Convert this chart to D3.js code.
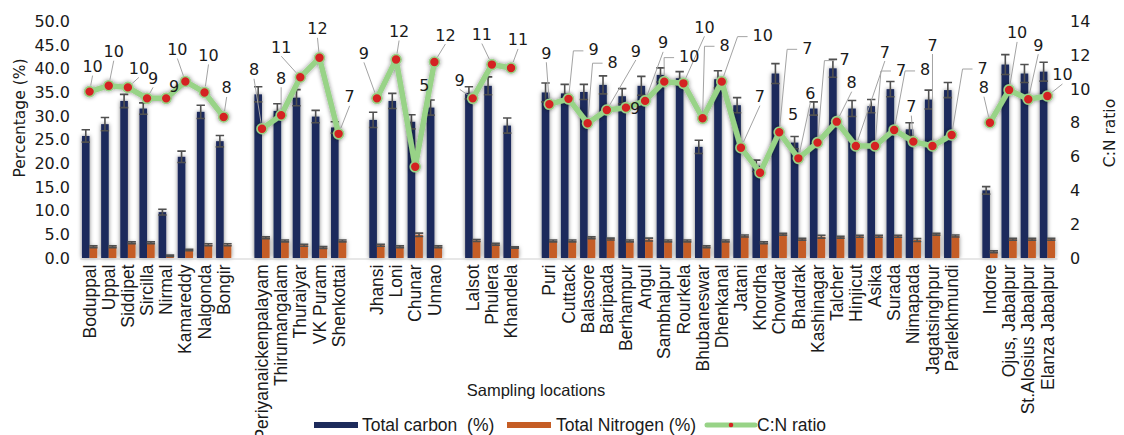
<!DOCTYPE html>
<html>
<head>
<meta charset="utf-8">
<script src="https://cdn.jsdelivr.net/npm/d3@7"></script>
<style>
  html, body { margin: 0; padding: 0; background: #fff; }
  svg { display: block; }
  .tick text { fill: #1a1a1a; }
</style>
</head>
<body>
<svg id="chart" width="1124" height="435"></svg>
<script>
// Sampling locations, in order, split into regional groups
const categories = [
  "Boduppal", "Uppal", "Siddipet", "Sircilla", "Nirmal", "Kamareddy", "Nalgonda", "Bongir",
  "Periyanaickenpalayam", "Thirumangalam", "Thuraiyar", "VK Puram", "Shenkottai",
  "Jhansi", "Loni", "Chunar", "Unnao",
  "Lalsot", "Phulera", "Khandela",
  "Puri", "Cuttack", "Balasore", "Baripada", "Berhampur", "Angul", "Sambhalpur", "Rourkela",
  "Bhubaneswar", "Dhenkanal", "Jatani", "Khordha", "Chowdar", "Bhadrak", "Kashinagar", "Talcher",
  "Hinjicut", "Asika", "Surada", "Nimapada", "Jagatsinghpur", "Parlekhmundi",
  "Indore", "Ojus, Jabalpur", "St.Alosius Jabalpur", "Elanza Jabalpur"
];
const groupSizes = [8, 5, 4, 3, 22, 4];

// Total carbon (%) and its error
const carbon = [
  25.8, 28.3, 33.2, 31.6, 9.7, 21.4, 30.9, 24.7,
  34.6, 31.1, 33.9, 29.9, 27.6,
  29.2, 33.2, 28.8, 31.8,
  34.9, 36.4, 28.0,
  35.0, 34.8, 35.1, 36.6, 34.2, 36.4, 38.7, 38.0, 23.5, 37.8, 32.3, 19.5, 39.0, 24.4, 31.6, 40.1,
  31.6, 32.1, 35.7, 27.2, 33.5, 35.5,
  14.3, 40.9, 39.0, 39.4
];
const carbonErr = [
  1.3, 1.4, 1.4, 1.2, 0.6, 1.2, 1.4, 1.2,
  1.6, 1.5, 1.7, 1.3, 1.2,
  1.6, 1.6, 1.5, 1.6,
  1.3, 1.9, 1.6,
  2.0, 1.9, 1.6, 1.9, 1.6, 2.0, 1.5, 1.4, 1.4, 1.8, 1.6, 1.2, 2.1, 1.3, 1.4, 1.9,
  1.7, 1.4, 1.6, 1.4, 2.0, 1.6,
  0.8, 2.1, 1.9, 2.0
];

// Total nitrogen (%) and its error
const nitrogen = [
  2.4, 2.4, 3.2, 3.2, 0.5, 1.7, 2.8, 2.8,
  4.3, 3.6, 2.7, 2.2, 3.6,
  2.7, 2.4, 4.9, 2.4,
  3.7, 2.9, 2.2,
  3.6, 3.6, 4.3, 4.0, 3.6, 3.9, 3.6, 3.6, 2.4, 3.6, 4.65, 3.2, 5.0, 3.95, 4.5, 4.4,
  4.6, 4.6, 4.6, 3.8, 5.0, 4.65,
  1.3, 3.95, 3.95, 3.95
];
const nitrogenErr = [
  0.2, 0.2, 0.2, 0.2, 0.15, 0.15, 0.2, 0.2,
  0.2, 0.2, 0.2, 0.2, 0.2,
  0.2, 0.2, 0.35, 0.2,
  0.2, 0.2, 0.15,
  0.2, 0.2, 0.2, 0.2, 0.2, 0.3, 0.2, 0.2, 0.2, 0.2, 0.2, 0.2, 0.2, 0.2, 0.3, 0.2,
  0.2, 0.2, 0.2, 0.3, 0.2, 0.2,
  0.2, 0.2, 0.2, 0.2
];

// C:N ratio
const cnRatio = [
  9.85, 10.2, 10.1, 9.45, 9.45, 10.45, 9.8, 8.35,
  7.65, 8.45, 10.7, 11.85, 7.35,
  9.45, 11.75, 5.4, 11.6,
  9.45, 11.45, 11.25,
  9.1, 9.42, 7.98, 8.76, 8.9, 9.3, 10.44, 10.34, 8.27, 10.44, 6.53, 5.05, 7.44, 5.9, 6.83, 8.07,
  6.63, 6.63, 7.58, 6.89, 6.63, 7.28,
  8.01, 9.95, 9.4, 9.59
];

const percentTicks = [0, 5, 10, 15, 20, 25, 30, 35, 40, 45, 50];
const ratioTicks = [0, 2, 4, 6, 8, 10, 12, 14];

// Placement of each ratio label relative to its marker: [dx, dy, leader]
// leader: 0 = none, 1 = straight line, 2 = line with a short horizontal stub
const labelPlacement = [
  [3, -25, 1], [5, -34, 1], [11, -19, 1], [6, -20, 1], [8, -12, 0], [-8, -32, 1], [4, -37, 1], [3, -29, 1],
  [-8, -59, 1], [0, -37, 1], [-19, -30, 1], [-2, -29, 1], [11, -37, 1],
  [-13, -45, 1], [3, -28, 1], [9, -81, 0], [11, -27, 1],
  [-13, -18, 1], [-10, -30, 1], [7, -28, 1],
  [-3, -51, 1], [25, -49, 2], [25, -61, 2], [29, -59, 1], [9, 1, 0], [18, -58, 1], [25, -25, 2], [21, -56, 1],
  [22, -73, 2], [41, -46, 2], [19, -51, 1], [33, -58, 0], [28, -84, 2], [12, -65, 1], [27, -83, 2], [15, -39, 1],
  [29, -94, 1], [26, -76, 2], [31, -60, 2], [-2, -35, 1], [0, -101, 1], [31, -67, 2],
  [-6, -35, 1], [8, -57, 1], [10, -54, 1], [15, -21, 1]
];

// ---- layout ----
const plot = { left: 80, right: 1057, top: 21.5, bottom: 258 };
const colors = { carbon: "#1d2b5b", nitrogen: "#c55d25", line: "#98d387", marker: "#d42323", err: "#505050" };

// slot list: categories with a blank slot between regional groups
const rows = categories.map((name, i) => ({
  name, c: carbon[i], ce: carbonErr[i], n: nitrogen[i], ne: nitrogenErr[i], cn: cnRatio[i], place: labelPlacement[i]
}));
const slots = [];
let k = 0;
groupSizes.forEach((size, g) => {
  if (g > 0) slots.push({ key: "gap" + g, gap: true });
  for (let j = 0; j < size; j++, k++) slots.push({ key: rows[k].name, row: rows[k] });
});

const svg = d3.select("#chart");
const defs = svg.append("defs");
const shadow = defs.append("filter").attr("id", "soft").attr("x", "-80%").attr("y", "-20%").attr("width", "260%").attr("height", "140%");
shadow.append("feDropShadow").attr("dx", 0).attr("dy", 0).attr("stdDeviation", 2.2)
  .attr("flood-color", "#000").attr("flood-opacity", 0.5);
const lineShadow = defs.append("filter").attr("id", "lineSoft").attr("x", "-10%").attr("y", "-30%").attr("width", "120%").attr("height", "160%");
lineShadow.append("feDropShadow").attr("dx", 0).attr("dy", 0).attr("stdDeviation", 2.2)
  .attr("flood-color", "#000").attr("flood-opacity", 0.45);

const x = d3.scaleBand().domain(slots.map(s => s.key)).range([plot.left, plot.right]).padding(0);
const yL = d3.scaleLinear().domain([0, 50]).range([plot.bottom, plot.top]);
const yR = d3.scaleLinear().domain([0, 14]).range([plot.bottom, plot.top]);
const barW = 7.6;
const cx = name => x(name) + x.bandwidth() / 2;

// ---- axes ----
const leftAxis = svg.append("g").attr("transform", `translate(${plot.left},0)`)
  .call(d3.axisLeft(yL).tickValues(percentTicks).tickFormat(d3.format(".1f")).tickSize(0).tickPadding(10));
leftAxis.select(".domain").remove();
leftAxis.selectAll("text").attr("font-family", "DejaVu Sans").attr("font-size", 16);

const rightAxis = svg.append("g").attr("transform", `translate(${plot.right},0)`)
  .call(d3.axisRight(yR).tickValues(ratioTicks).tickFormat(d3.format("d")).tickSize(0).tickPadding(13));
rightAxis.select(".domain").remove();
rightAxis.selectAll("text").attr("font-family", "DejaVu Sans").attr("font-size", 16);

// ---- bars ----
const bars = svg.append("g").attr("filter", "url(#soft)");
const dataRows = slots.filter(s => !s.gap);
bars.selectAll("rect.c").data(dataRows).join("rect").attr("class", "c")
  .attr("x", s => cx(s.key) - barW).attr("width", barW)
  .attr("y", s => yL(s.row.c)).attr("height", s => yL(0) - yL(s.row.c))
  .attr("fill", colors.carbon);
bars.selectAll("rect.n").data(dataRows).join("rect").attr("class", "n")
  .attr("x", s => cx(s.key)).attr("width", barW)
  .attr("y", s => yL(s.row.n)).attr("height", s => yL(0) - yL(s.row.n))
  .attr("fill", colors.nitrogen);

// ---- error bars ----
const errG = svg.append("g").attr("stroke", colors.err).attr("stroke-width", 1.6).attr("fill", "none");
function errorBar(xc, v, e) {
  const y1 = yL(v + e), y2 = yL(Math.max(0, v - e)), h = 4.2;
  errG.append("path").attr("d", `M${xc},${y1}V${y2}M${xc - h},${y1}H${xc + h}M${xc - h},${y2}H${xc + h}`);
}
dataRows.forEach(s => {
  errorBar(cx(s.key) - barW / 2, s.row.c, s.row.ce);
  errorBar(cx(s.key) + barW / 2, s.row.n, s.row.ne);
});

// x axis baseline and category labels
const xAxis = svg.append("g").attr("transform", `translate(0,${plot.bottom + 0.5})`)
  .call(d3.axisBottom(x).tickValues(categories).tickSize(0).tickSizeOuter(0).tickPadding(0));
xAxis.select(".domain").attr("stroke", "#d0d0d0").attr("stroke-width", 1.2);
xAxis.selectAll(".tick text")
  .attr("font-family", "Liberation Sans, Arial, sans-serif").attr("font-size", 17.5)
  .attr("text-anchor", "end").attr("dy", "0.35em")
  .attr("transform", "translate(0,6) rotate(-90)").attr("x", 0).attr("y", 0);

// ---- C:N ratio line ----
const lineG = svg.append("g").attr("filter", "url(#lineSoft)");
const line = d3.line()
  .defined(s => !s.gap)
  .x(s => cx(s.key))
  .y(s => yR(s.row.cn));
lineG.append("path").datum(slots).attr("d", line)
  .attr("fill", "none").attr("stroke", colors.line).attr("stroke-width", 5.5)
  .attr("stroke-linejoin", "round").attr("stroke-linecap", "round");
lineG.selectAll("circle").data(dataRows).join("circle")
  .attr("cx", s => cx(s.key)).attr("cy", s => yR(s.row.cn)).attr("r", 5)
  .attr("fill", colors.marker).attr("stroke", colors.line).attr("stroke-width", 1.6);

// ---- ratio labels with leader lines ----
const fmt = d3.format(".0f");
const leaderG = svg.append("g").attr("stroke", "#a3a3a3").attr("stroke-width", 1).attr("fill", "none");
const labelG = svg.append("g").attr("font-family", "DejaVu Sans").attr("font-size", 16).attr("fill", "#1a1a1a");
dataRows.forEach(s => {
  const px = cx(s.key), py = yR(s.row.cn);
  const [dx, dy, leader] = s.row.place;
  const lx = px + dx, ly = py + dy;
  const t = labelG.append("text").attr("x", lx).attr("y", ly).attr("text-anchor", "middle")
    .attr("dominant-baseline", "central").text(fmt(s.row.cn));
  const w = t.node().getComputedTextLength();
  if (leader === 0) return;
  let sx, sy, pts = [];
  if (leader === 2) {
    sx = lx - w / 2 - 5; sy = ly + 1;
    pts.push([sx, sy]);
    sx -= 10;
    pts.push([sx, sy]);
  } else {
    sx = lx; sy = ly + 9;
    pts.push([sx, sy]);
  }
  const vx = px - sx, vy = py - sy, d = Math.hypot(vx, vy);
  if (d < 8) return;
  pts.push([px - vx / d * 6, py - vy / d * 6]);
  leaderG.append("path").attr("d", d3.line()(pts));
});

// ---- axis titles ----
svg.append("text").attr("transform", "translate(25,118) rotate(-90)")
  .attr("text-anchor", "middle").attr("font-family", "DejaVu Sans").attr("font-size", 15.5)
  .attr("fill", "#1a1a1a").text("Percentage (%)");
svg.append("text").attr("transform", "translate(1110,133) rotate(-90)")
  .attr("text-anchor", "middle").attr("dominant-baseline", "central").attr("font-family", "DejaVu Sans").attr("font-size", 15.5)
  .attr("fill", "#1a1a1a").text("C:N ratio");
svg.append("text").attr("x", 536).attr("y", 390).attr("dominant-baseline", "central")
  .attr("text-anchor", "middle").attr("font-family", "Liberation Sans, Arial, sans-serif").attr("font-size", 16.5)
  .attr("fill", "#1a1a1a").text("Sampling locations");

// ---- legend ----
const legend = svg.append("g").attr("font-family", "Liberation Sans, Arial, sans-serif").attr("font-size", 17.5).attr("fill", "#1a1a1a");
const ly0 = 425;
legend.append("rect").attr("x", 314).attr("y", ly0 - 3).attr("width", 44).attr("height", 6).attr("fill", colors.carbon);
legend.append("text").attr("x", 362).attr("y", ly0).attr("dominant-baseline", "central")
  .style("white-space", "pre").text("Total carbon  (%)");
legend.append("rect").attr("x", 507).attr("y", ly0 - 3).attr("width", 44).attr("height", 6).attr("fill", colors.nitrogen);
legend.append("text").attr("x", 556).attr("y", ly0).attr("dominant-baseline", "central").text("Total Nitrogen (%)");
legend.append("line").attr("x1", 707).attr("x2", 755).attr("y1", ly0).attr("y2", ly0)
  .attr("stroke", colors.line).attr("stroke-width", 5).attr("stroke-linecap", "round");
legend.append("circle").attr("cx", 731).attr("cy", ly0).attr("r", 2.3).attr("fill", colors.marker);
legend.append("text").attr("x", 757).attr("y", ly0).attr("dominant-baseline", "central").text("C:N ratio");
</script>
</body>
</html>
